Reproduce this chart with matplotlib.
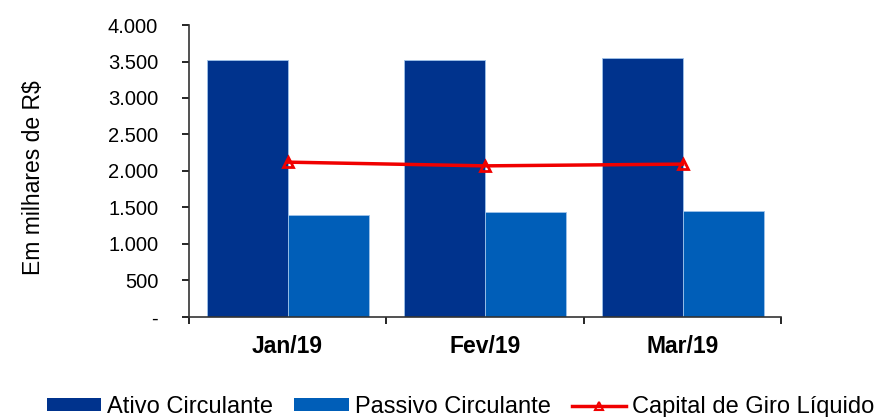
import matplotlib
matplotlib.use("Agg")
import matplotlib.pyplot as plt
import numpy as np
from matplotlib.patches import Patch
from matplotlib.lines import Line2D
from matplotlib.ticker import FuncFormatter

plt.rcParams['font.family'] = ['Liberation Sans', 'DejaVu Sans']

categories = ["Jan/19", "Fev/19", "Mar/19"]
ativo = [3520, 3520, 3548]
passivo = [1397, 1434, 1452]
capital = [2121, 2070, 2094]
yticks = [0, 500, 1000, 1500, 2000, 2500, 3000, 3500, 4000]

c_ativo = "#00338D"
c_passivo = "#005EB8"
c_red = "#F00000"

fig = plt.figure(figsize=(8.74, 4.17), dpi=100)
ax = fig.add_axes([0.216, 0.240, 0.678, 0.700])

x = np.arange(len(categories))
w = 0.41
ax.bar(x - w/2, ativo, w, color=c_ativo, edgecolor="#9FC3EA", linewidth=0.6, zorder=2)
ax.bar(x + w/2, passivo, w, color=c_passivo, edgecolor="#9FC3EA", linewidth=0.6, zorder=2)
ax.plot(x, capital, color=c_red, linewidth=2.5, marker="^", markersize=7,
        markerfacecolor="none", markeredgecolor=c_red, markeredgewidth=2, zorder=3)

ax.set_xlim(-0.5, len(categories) - 0.5)
ax.set_ylim(0, 4000)
ax.set_yticks(yticks)
ax.yaxis.set_major_formatter(FuncFormatter(
    lambda v, p: "-" if v == 0 else f"{int(v):,}".replace(",", ".")))
ax.set_xticks(x)
ax.set_xticklabels(categories, fontsize=16.5, fontweight="bold")
ax.set_xticks(np.arange(len(categories) + 1) - 0.5, minor=True)
ax.tick_params(axis="x", which="major", length=0, pad=13)
ax.tick_params(axis="x", which="minor", length=5, width=1.2, direction="out")
ax.tick_params(axis="y", labelsize=14.5, length=5, width=1.2, direction="out", pad=17)

for s in ["top", "right"]:
    ax.spines[s].set_visible(False)
for s in ["left", "bottom"]:
    ax.spines[s].set_linewidth(1.2)
    ax.spines[s].set_color("#333333")

fig.text(0.038, 0.575, "Em milhares de R$", rotation=90, fontsize=16.5,
         ha="center", va="center")

handles = [
    Patch(facecolor=c_ativo, edgecolor="none"),
    Patch(facecolor=c_passivo, edgecolor="none"),
    Line2D([0], [0], color=c_red, linewidth=2.5, marker="^", markersize=6,
           markerfacecolor="none", markeredgecolor=c_red, markeredgewidth=1.5),
]
labels = ["Ativo Circulante", "Passivo Circulante", "Capital de Giro Líquido"]
fig.legend(handles, labels, loc="center", bbox_to_anchor=(0.527, 0.024), ncol=3,
           frameon=False, fontsize=17, handlelength=2.3, handleheight=0.45,
           handletextpad=0.26, columnspacing=0.9, borderaxespad=0, borderpad=0)

fig.savefig("out.png", dpi=100)
